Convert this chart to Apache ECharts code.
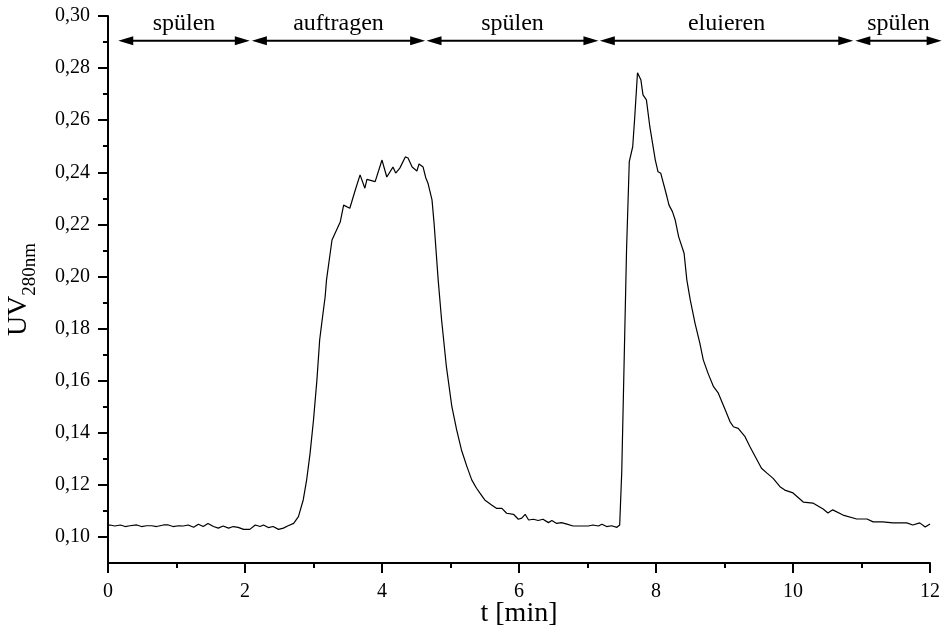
<!DOCTYPE html>
<html>
<head>
<meta charset="utf-8">
<script src="https://cdn.jsdelivr.net/npm/echarts@6/dist/echarts.min.js"></script>
<style>html,body{margin:0;padding:0;background:#fff}#c{width:943px;height:633px}</style>
</head>
<body>
<div id="c"></div>
<script>
// time [min]
const tMin = [0.00,0.03,0.10,0.18,0.25,0.32,0.42,0.49,0.56,0.64,0.71,0.81,0.88,0.95,1.03,1.10,1.17,1.25,1.32,1.39,1.46,1.54,1.61,1.68,1.76,1.83,1.90,1.98,2.07,2.15,2.22,2.27,2.34,2.41,2.49,2.56,2.63,2.71,2.78,2.85,2.90,2.95,3.00,3.05,3.09,3.12,3.17,3.19,3.27,3.39,3.44,3.53,3.61,3.68,3.75,3.78,3.90,4.00,4.07,4.16,4.20,4.26,4.34,4.38,4.44,4.51,4.54,4.60,4.64,4.67,4.73,4.76,4.82,4.87,4.94,5.02,5.09,5.16,5.24,5.31,5.38,5.43,5.50,5.60,5.67,5.75,5.82,5.92,5.99,6.04,6.09,6.14,6.21,6.28,6.35,6.43,6.48,6.55,6.62,6.70,6.79,6.89,7.01,7.08,7.16,7.21,7.28,7.35,7.43,7.47,7.49,7.50,7.57,7.61,7.66,7.69,7.73,7.78,7.81,7.86,7.91,7.99,8.03,8.07,8.16,8.19,8.24,8.28,8.33,8.41,8.45,8.50,8.57,8.64,8.69,8.76,8.84,8.91,8.96,9.01,9.08,9.13,9.20,9.30,9.37,9.45,9.54,9.62,9.71,9.81,9.88,10.00,10.15,10.29,10.44,10.51,10.58,10.73,10.93,11.08,11.17,11.31,11.46,11.66,11.75,11.85,11.93,12.00];
// UV absorbance at 280 nm
const uv280 = [0.1045,0.1046,0.1042,0.1046,0.1040,0.1043,0.1046,0.1040,0.1043,0.1043,0.1040,0.1046,0.1046,0.1040,0.1043,0.1042,0.1046,0.1037,0.1049,0.1040,0.1052,0.1040,0.1034,0.1042,0.1034,0.1040,0.1037,0.1029,0.1029,0.1046,0.1040,0.1046,0.1036,0.1040,0.1029,0.1034,0.1043,0.1052,0.1078,0.1142,0.1219,0.1321,0.1449,0.1603,0.1756,0.1820,0.1922,0.1987,0.2140,0.2209,0.2274,0.2262,0.2332,0.2390,0.2339,0.2373,0.2364,0.2447,0.2382,0.2420,0.2397,0.2416,0.2459,0.2455,0.2420,0.2405,0.2432,0.2420,0.2378,0.2359,0.2294,0.2205,0.1987,0.1833,0.1654,0.1500,0.1411,0.1334,0.1270,0.1219,0.1187,0.1168,0.1142,0.1123,0.1110,0.1110,0.1091,0.1087,0.1068,0.1072,0.1087,0.1065,0.1068,0.1063,0.1068,0.1055,0.1063,0.1052,0.1055,0.1049,0.1042,0.1042,0.1042,0.1046,0.1042,0.1049,0.1040,0.1043,0.1037,0.1046,0.1046,0.1250,0.2102,0.2441,0.2498,0.2613,0.2782,0.2754,0.2697,0.2678,0.2575,0.2447,0.2402,0.2396,0.2306,0.2274,0.2249,0.2217,0.2153,0.2089,0.1987,0.1910,0.1820,0.1744,0.1680,0.1628,0.1577,0.1552,0.1520,0.1488,0.1443,0.1423,0.1417,0.1385,0.1347,0.1308,0.1264,0.1245,0.1225,0.1193,0.1180,0.1169,0.1134,0.1130,0.1107,0.1092,0.1104,0.1084,0.1069,0.1069,0.1058,0.1058,0.1054,0.1054,0.1046,0.1054,0.1038,0.1050];

// phases (arrow tips in minutes) and labels
const phaseLabels = ['spülen','auftragen','spülen','eluieren','spülen'];
const phaseStart = [0.15, 2.10, 4.65, 7.18, 10.91];
const phaseEnd   = [2.07, 4.63, 7.16, 10.88, 12.17];
const phaseLevel = 0.2905;

// axis ticks
const yMajor = [0.10,0.12,0.14,0.16,0.18,0.20,0.22,0.24,0.26,0.28,0.30];
const yMinor = [0.11,0.13,0.15,0.17,0.19,0.21,0.23,0.25,0.27,0.29];
const xTicks = [0,2,4,6,8,10,12];

const FONT = '"Liberation Serif","Times New Roman",serif';

function renderArrow(params, api) {
  const s = api.coord([api.value(0), api.value(2)]);
  const e = api.coord([api.value(1), api.value(2)]);
  const L = 15, W = 4.5, y = s[1];
  const label = phaseLabels[api.value(3)];
  return {
    type: 'group',
    children: [
      { type: 'line', shape: { x1: s[0] + 6, y1: y, x2: e[0] - 6, y2: y },
        style: { stroke: '#000', lineWidth: 2 } },
      { type: 'polygon', shape: { points: [[s[0], y], [s[0] + L, y - W], [s[0] + L, y + W]] },
        style: { fill: '#000' } },
      { type: 'polygon', shape: { points: [[e[0], y], [e[0] - L, y - W], [e[0] - L, y + W]] },
        style: { fill: '#000' } },
      { type: 'text', x: (s[0] + e[0]) / 2, y: y - 17,
        style: { text: label, font: '24px ' + FONT, fill: '#000', align: 'center', verticalAlign: 'middle' } }
    ]
  };
}

const chart = echarts.init(document.getElementById('c'), null, {renderer: 'canvas'});
chart.setOption({
  animation: false,
  backgroundColor: '#fff',
  grid: { left: 108, right: 13, top: 16, bottom: 70, containLabel: false, outerBoundsMode: 'none' },
  xAxis: {
    type: 'value', min: 0, max: 12, interval: 2,
    name: 't [min]', nameLocation: 'middle', nameGap: 37, nameMoveOverlap: false,
    nameTextStyle: { fontFamily: FONT, fontSize: 28, color: '#000' },
    axisLine: { show: true, lineStyle: { color: '#000', width: 2 } },
    axisTick: { show: true, length: 10, lineStyle: { color: '#000', width: 2 } },
    minorTick: { show: true, splitNumber: 2, length: 5, lineStyle: { color: '#000', width: 2 } },
    axisLabel: { fontFamily: FONT, fontSize: 20, color: '#000', margin: 19,
      formatter: v => xTicks.includes(v) ? String(v) : '' },
    splitLine: { show: false }, minorSplitLine: { show: false }
  },
  yAxis: [{
    type: 'value', min: 0.09, max: 0.30,
    name: '{a|UV}{b|280nm}', nameLocation: 'middle', nameRotate: 90, nameGap: 75, nameMoveOverlap: false,
    nameTextStyle: { rich: {
      a: { fontFamily: FONT, fontSize: 28, color: '#000', verticalAlign: 'bottom', lineHeight: 30 },
      b: { fontFamily: FONT, fontSize: 19, color: '#000', verticalAlign: 'bottom', lineHeight: 30, padding: [0,0,-7,0] }
    } },
    axisLine: { show: true, lineStyle: { color: '#000', width: 2 } },
    axisTick: { show: true, customValues: yMajor, length: 10, lineStyle: { color: '#000', width: 2 } },
    axisLabel: { customValues: yMajor, fontFamily: FONT, fontSize: 20, color: '#000', margin: 18,
      formatter: v => v.toFixed(2).replace('.', ',') },
    splitLine: { show: false }
  }, {
    type: 'value', min: 0.09, max: 0.30, position: 'left',
    axisLine: { show: false },
    axisTick: { show: true, customValues: yMinor, length: 5, lineStyle: { color: '#000', width: 2 } },
    axisLabel: { show: false },
    splitLine: { show: false }
  }],
  series: [{
    type: 'line',
    data: tMin.map((t, i) => [t, uv280[i]]),
    showSymbol: false, smooth: false,
    lineStyle: { color: '#000', width: 1.2 }
  }, {
    type: 'custom',
    clip: false, silent: true,
    renderItem: renderArrow,
    data: phaseLabels.map((l, i) => [phaseStart[i], phaseEnd[i], phaseLevel, i]),
    encode: { x: [0, 1], y: 2 }
  }]
});
</script>
</body>
</html>
